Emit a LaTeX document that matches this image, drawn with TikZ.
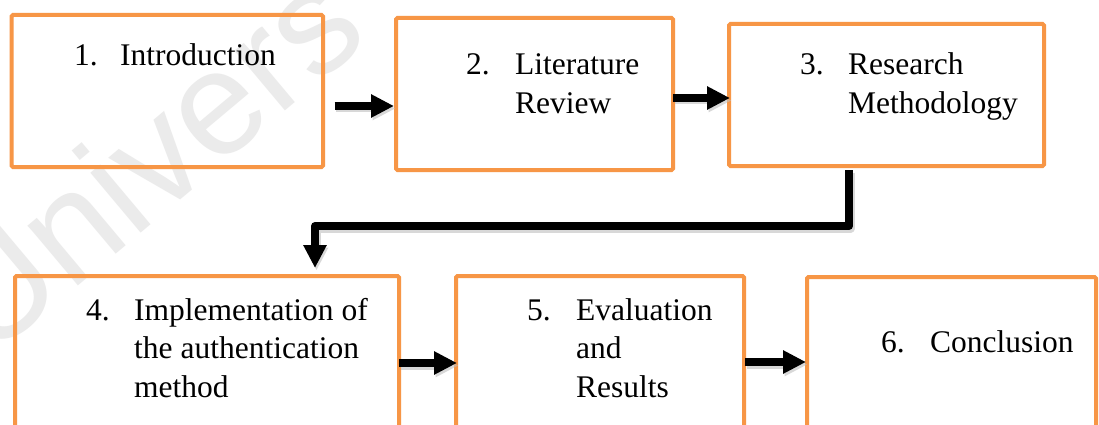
\documentclass[tikz,border=0pt]{standalone}
\usepackage{fontspec}
\setmainfont{Liberation Serif}
\newfontfamily\wmfont{Liberation Sans}
\usetikzlibrary{arrows.meta,calc}
\definecolor{boxorange}{HTML}{F79646}
\begin{document}
\begin{tikzpicture}[x=1pt,y=-1pt,
  box/.style={draw=boxorange, line width=4pt, rounded corners=1.5pt, inner sep=0pt, outer sep=0pt, anchor=north west},
  lbl/.style={anchor=base west, inner sep=0pt, font=\fontsize{31.5}{38.5}\selectfont},
  arr/.style={line width=8pt, line join=round, -{Triangle[length=23pt,width=22pt]}},
  arrshadow/.style={arr, draw=black!25, opacity=0.6, transform canvas={xshift=1.5pt,yshift=-2.5pt}},
  wm/.style={anchor=base west, inner sep=0pt, text=black!8, font=\wmfont\fontsize{148}{148}\selectfont}]
\useasboundingbox (0,0) rectangle (1099,425);
\clip (0,0) rectangle (1099,425);
\fill[white] (0,0) rectangle (1099,425);
% watermark
\node[wm, rotate=40] (wmark) at (-12,361) {Univers};
% boxes
\node[box, minimum width=311.5pt, minimum height=152pt] (b1) at (11.5,15) {};
\node[box, minimum width=277pt, minimum height=152pt] (b2) at (396,18) {};
\node[box, minimum width=315pt, minimum height=142pt] (b3) at (729,24) {};
\node[box, minimum width=384pt, minimum height=200pt] (b4) at (15,276) {};
\node[box, minimum width=288pt, minimum height=200pt] (b5) at (456,276) {};
\node[box, minimum width=289pt, minimum height=200pt] (b6) at (807,277) {};
% labels
\node[lbl] (n1) at (74,66) {1.};
\node[lbl] (t1) at (120,66) {Introduction};
\node[lbl] (n2) at (466,75) {2.};
\node[lbl] (t2) at (515,75) {\begin{tabular}[t]{@{}l@{}}Literature\\Review\end{tabular}};
\node[lbl] (n3) at (800,75) {3.};
\node[lbl] (t3) at (848,75) {\begin{tabular}[t]{@{}l@{}}Research\\Methodology\end{tabular}};
\node[lbl] (n4) at (86,320) {4.};
\node[lbl] (t4) at (134,320) {\begin{tabular}[t]{@{}l@{}}Implementation of\\the authentication\\method\end{tabular}};
\node[lbl] (n5) at (527,320) {5.};
\node[lbl] (t5) at (576,320) {\begin{tabular}[t]{@{}l@{}}Evaluation\\and\\Results\end{tabular}};
\node[lbl] (n6) at (881,352) {6.};
\node[lbl] (t6) at (930,352) {Conclusion};
% connector coordinates
\coordinate (a1) at ($(b1.east)+(11.5,15)$);
\coordinate (a2) at ($(b2.east)+(0,4)$);
\coordinate (a3) at ($(b4.north east)+(0,87)$);
\coordinate (a4) at ($(b5.north east)+(1,86)$);
\coordinate (e0) at ($(b3.south)+(-37.5,4)$);
\coordinate (em) at ($(e0)+(0,56)$);
\coordinate (e3) at ($(b4.north)+(108,-8)$);
% shadows
\draw[arrshadow] (a1) -- ([xshift=-2pt]b2.west |- a1);
\draw[arrshadow] (a2) -- ([xshift=1pt]b3.west |- a2);
\draw[arrshadow] (a3) -- ([xshift=1pt]b5.west |- a3);
\draw[arrshadow] (a4) -- ([xshift=-1pt]b6.west |- a4);
\draw[arrshadow] (e0) -- (em) -| (e3);
% arrows
\draw[arr] (a1) -- ([xshift=-2pt]b2.west |- a1);
\draw[arr] (a2) -- ([xshift=1pt]b3.west |- a2);
\draw[arr] (a3) -- ([xshift=1pt]b5.west |- a3);
\draw[arr] (a4) -- ([xshift=-1pt]b6.west |- a4);
\draw[arr] (e0) -- (em) -| (e3);
\end{tikzpicture}
\end{document}
